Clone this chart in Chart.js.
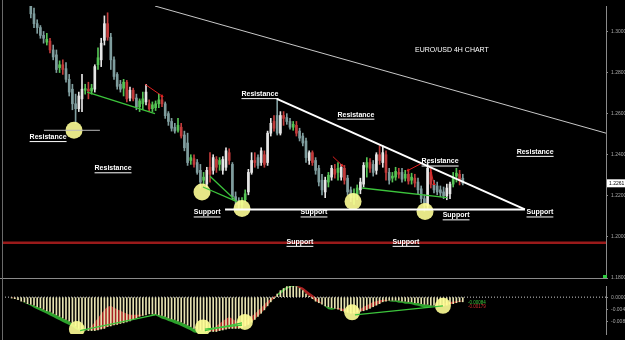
<!DOCTYPE html>
<html><head><meta charset="utf-8">
<script src="https://cdn.jsdelivr.net/npm/chart.js@4.4.1/dist/chart.umd.min.js"></script>
<style>
html,body{margin:0;padding:0;background:#000;width:625px;height:340px;overflow:hidden}
#wrap{position:relative;width:625px;height:340px;background:#000}
canvas{position:absolute;left:0}
#main{top:0}
#macd{top:280px}
.hl{position:absolute;left:0;width:607px;top:278px;height:1px;background:#8a8a8a}
.vl{position:absolute;left:2px;top:0;width:1px;height:340px;background:#6a6a6a}
</style></head><body>
<div id="wrap">
<canvas id="main" width="625" height="284"></canvas>
<canvas id="macd" width="625" height="60"></canvas>
<div class="hl"></div><div class="vl"></div>
</div>
<script>
// ---------- DATA ----------
const firstCandle = 9;      // bar index of first candle
const firstMacd = 3;        // bar index of first MACD bar
const xSlots = 188.75;      // bar slots across the plot width

const open = [
1.3148,1.3086,1.3038,1.3019,1.2981,1.2948,1.2953,1.2910,1.2886,1.2824,
1.2838,1.2819,1.2767,1.2719,1.2648,1.2624,1.2672,1.2714,1.2719,1.2710,
1.2719,1.2838,1.2862,1.2957,1.3038,1.2972,1.2862,1.2791,1.2743,1.2724,
1.2753,1.2676,1.2714,1.2676,1.2634,1.2648,1.2657,1.2648,1.2624,1.2629,
1.2648,1.2667,1.2648,1.2600,1.2562,1.2534,1.2519,1.2534,1.2496,1.2457,
1.2372,1.2381,1.2362,1.2324,1.2276,1.2257,1.2339,1.2324,1.2377,1.2353,
1.2324,1.2339,1.2410,1.2353,1.2196,1.2177,1.2158,1.2181,1.2219,1.2314,
1.2372,1.2386,1.2362,1.2400,1.2362,1.2505,1.2562,1.2591,1.2505,1.2591,
1.2581,1.2562,1.2534,1.2543,1.2515,1.2491,1.2467,1.2372,1.2410,1.2372,
1.2334,1.2276,1.2219,1.2267,1.2291,1.2329,1.2314,1.2291,1.2334,1.2286,
1.2229,1.2191,1.2205,1.2229,1.2257,1.2339,1.2362,1.2353,1.2324,1.2400,
1.2362,1.2400,1.2314,1.2286,1.2291,1.2314,1.2314,1.2286,1.2305,1.2276,
1.2286,1.2267,1.2234,1.2186,1.2153,1.2314,1.2257,1.2248,1.2229,1.2219,
1.2200,1.2210,1.2257,1.2296,1.2305,1.2286];
const high = [
1.3172,1.3114,1.3057,1.3029,1.3000,1.2991,1.2967,1.2934,1.2910,1.2857,
1.2862,1.2848,1.2791,1.2743,1.2695,1.2705,1.2791,1.2743,1.2753,1.2743,
1.2838,1.2920,1.2967,1.3076,1.3091,1.2991,1.2876,1.2800,1.2762,1.2767,
1.2762,1.2729,1.2724,1.2695,1.2672,1.2705,1.2743,1.2667,1.2657,1.2662,
1.2695,1.2686,1.2657,1.2610,1.2577,1.2553,1.2577,1.2553,1.2515,1.2505,
1.2400,1.2400,1.2377,1.2353,1.2314,1.2339,1.2410,1.2400,1.2391,1.2386,
1.2391,1.2434,1.2429,1.2362,1.2219,1.2191,1.2191,1.2229,1.2329,1.2410,
1.2410,1.2400,1.2434,1.2419,1.2515,1.2577,1.2591,1.2672,1.2610,1.2610,
1.2600,1.2577,1.2562,1.2562,1.2529,1.2505,1.2481,1.2419,1.2419,1.2386,
1.2348,1.2305,1.2291,1.2314,1.2348,1.2353,1.2362,1.2353,1.2348,1.2300,
1.2243,1.2234,1.2253,1.2286,1.2362,1.2386,1.2381,1.2372,1.2410,1.2443,
1.2443,1.2419,1.2334,1.2314,1.2339,1.2334,1.2334,1.2324,1.2319,1.2310,
1.2305,1.2286,1.2248,1.2205,1.2362,1.2329,1.2276,1.2267,1.2248,1.2243,
1.2257,1.2267,1.2314,1.2334,1.2324,1.2305];
const low = [
1.3066,1.3019,1.2991,1.2967,1.2943,1.2934,1.2896,1.2862,1.2800,1.2800,
1.2791,1.2753,1.2686,1.2619,1.2553,1.2610,1.2610,1.2695,1.2672,1.2695,
1.2705,1.2815,1.2829,1.2934,1.2957,1.2815,1.2767,1.2719,1.2705,1.2686,
1.2657,1.2662,1.2662,1.2619,1.2610,1.2619,1.2643,1.2610,1.2610,1.2615,
1.2629,1.2634,1.2577,1.2543,1.2515,1.2505,1.2510,1.2481,1.2419,1.2348,
1.2353,1.2339,1.2305,1.2238,1.2253,1.2243,1.2267,1.2305,1.2314,1.2324,
1.2305,1.2324,1.2353,1.2181,1.2158,1.2139,1.2134,1.2172,1.2205,1.2305,
1.2339,1.2334,1.2348,1.2339,1.2348,1.2491,1.2515,1.2496,1.2496,1.2543,
1.2548,1.2524,1.2519,1.2491,1.2467,1.2443,1.2362,1.2353,1.2348,1.2305,
1.2248,1.2205,1.2191,1.2243,1.2276,1.2286,1.2276,1.2276,1.2257,1.2205,
1.2172,1.2158,1.2181,1.2210,1.2243,1.2291,1.2314,1.2296,1.2305,1.2353,
1.2339,1.2276,1.2257,1.2267,1.2276,1.2286,1.2267,1.2272,1.2257,1.2257,
1.2243,1.2210,1.2167,1.2124,1.2139,1.2238,1.2214,1.2205,1.2196,1.2186,
1.2181,1.2186,1.2243,1.2267,1.2253,1.2253];
const close = [
1.3086,1.3038,1.3019,1.2981,1.2967,1.2962,1.2910,1.2876,1.2815,1.2838,
1.2815,1.2767,1.2705,1.2648,1.2624,1.2686,1.2719,1.2722,1.2710,1.2724,
1.2829,1.2872,1.2943,1.3038,1.2972,1.2862,1.2781,1.2733,1.2719,1.2753,
1.2672,1.2714,1.2672,1.2634,1.2662,1.2672,1.2705,1.2624,1.2643,1.2648,
1.2667,1.2648,1.2590,1.2562,1.2529,1.2515,1.2543,1.2491,1.2434,1.2362,
1.2386,1.2353,1.2314,1.2267,1.2291,1.2324,1.2305,1.2386,1.2339,1.2372,
1.2377,1.2419,1.2372,1.2196,1.2177,1.2158,1.2172,1.2210,1.2314,1.2372,
1.2362,1.2348,1.2419,1.2353,1.2505,1.2553,1.2529,1.2505,1.2591,1.2577,
1.2562,1.2534,1.2548,1.2505,1.2481,1.2457,1.2386,1.2410,1.2362,1.2324,
1.2267,1.2229,1.2276,1.2300,1.2334,1.2305,1.2334,1.2339,1.2276,1.2219,
1.2191,1.2210,1.2238,1.2267,1.2348,1.2362,1.2334,1.2314,1.2400,1.2372,
1.2410,1.2314,1.2276,1.2296,1.2319,1.2305,1.2281,1.2305,1.2272,1.2291,
1.2262,1.2229,1.2186,1.2153,1.2334,1.2257,1.2229,1.2219,1.2214,1.2200,
1.2238,1.2257,1.2291,1.2310,1.2276,1.2261];

const macdHist = [
-0.0003,-0.0005,-0.0008,-0.0013,-0.0015,-0.0021,-0.0023,-0.0026,-0.0031,-0.0034,
-0.0039,-0.0044,-0.0046,-0.0052,-0.0057,-0.0062,-0.0067,-0.0072,-0.0077,-0.0085,
-0.0093,-0.0101,-0.0103,-0.0106,-0.0108,-0.0108,-0.0108,-0.0106,-0.0103,-0.0101,
-0.0095,-0.0093,-0.0090,-0.0088,-0.0085,-0.0083,-0.0080,-0.0077,-0.0072,-0.0067,
-0.0062,-0.0059,-0.0057,-0.0054,-0.0054,-0.0054,-0.0057,-0.0059,-0.0062,-0.0067,
-0.0070,-0.0072,-0.0077,-0.0080,-0.0085,-0.0090,-0.0095,-0.0101,-0.0103,-0.0106,
-0.0108,-0.0111,-0.0111,-0.0111,-0.0111,-0.0108,-0.0106,-0.0103,-0.0101,-0.0101,
-0.0101,-0.0101,-0.0098,-0.0093,-0.0088,-0.0080,-0.0072,-0.0062,-0.0052,-0.0041,
-0.0028,-0.0015,-0.0005,0.0010,0.0021,0.0028,0.0034,0.0036,0.0036,0.0034,
0.0028,0.0021,0.0010,0.0003,-0.0005,-0.0013,-0.0018,-0.0023,-0.0028,-0.0031,
-0.0034,-0.0036,-0.0039,-0.0044,-0.0046,-0.0049,-0.0052,-0.0052,-0.0049,-0.0046,
-0.0044,-0.0041,-0.0036,-0.0031,-0.0026,-0.0021,-0.0015,-0.0013,-0.0010,-0.0010,
-0.0010,-0.0010,-0.0013,-0.0013,-0.0015,-0.0015,-0.0018,-0.0018,-0.0021,-0.0023,
-0.0023,-0.0026,-0.0026,-0.0028,-0.0028,-0.0028,-0.0026,-0.0023,-0.0021,-0.0018,
-0.0015,-0.0015];
const macdLine = [
0.0000,-0.0003,-0.0008,-0.0013,-0.0018,-0.0023,-0.0028,-0.0034,-0.0039,-0.0044,
-0.0049,-0.0054,-0.0059,-0.0064,-0.0070,-0.0075,-0.0080,-0.0085,-0.0090,-0.0095,
-0.0103,-0.0108,-0.0111,-0.0108,-0.0101,-0.0093,-0.0080,-0.0067,-0.0054,-0.0041,
-0.0031,-0.0028,-0.0034,-0.0039,-0.0044,-0.0049,-0.0054,-0.0057,-0.0057,-0.0057,
-0.0057,-0.0057,-0.0057,-0.0054,-0.0057,-0.0059,-0.0064,-0.0070,-0.0072,-0.0077,
-0.0080,-0.0085,-0.0088,-0.0093,-0.0098,-0.0103,-0.0108,-0.0114,-0.0116,-0.0119,
-0.0119,-0.0116,-0.0108,-0.0101,-0.0093,-0.0085,-0.0077,-0.0070,-0.0064,-0.0070,
-0.0077,-0.0083,-0.0083,-0.0077,-0.0070,-0.0062,-0.0054,-0.0044,-0.0034,-0.0023,
-0.0013,-0.0005,0.0003,0.0005,0.0010,0.0018,0.0026,0.0031,0.0034,0.0036,
0.0034,0.0031,0.0023,0.0015,0.0008,0.0000,-0.0010,-0.0021,-0.0031,-0.0039,
-0.0041,-0.0039,-0.0034,-0.0036,-0.0039,-0.0044,-0.0049,-0.0049,-0.0044,-0.0039,
-0.0031,-0.0026,-0.0021,-0.0015,-0.0013,-0.0010,-0.0008,-0.0008,-0.0013,-0.0015,
-0.0015,-0.0018,-0.0018,-0.0021,-0.0021,-0.0023,-0.0026,-0.0028,-0.0031,-0.0034,
-0.0034,-0.0031,-0.0028,-0.0026,-0.0023,-0.0021,-0.0018,-0.0015,-0.0015,-0.0013,
-0.0013,-0.0010];

const priceTicks = [1.18,1.20,1.22,1.24,1.26,1.28,1.30];
const macdTicks = [0,-0.004,-0.008];

// drawn studies, anchored as [bar index, price]
const longTrend = [[47.8,1.3124],[188.75,1.2505]];
const resistanceLine = [[85.9,1.2672],[163.4,1.2134]];
const supportLine = [[69.7,1.2134],[163.4,1.2134]];
const redLevel = [[0,1.1972],[188.75,1.1972]];
const grayLevel = [[13.1,1.2519],[30.6,1.2519]];
const greenTrends = [
  [[26.6,1.2705],[47.8,1.2600]],
  [[62.8,1.2243],[73.4,1.2172]],
  [[65.0,1.2295],[72.8,1.2181]],
  [[112.5,1.2238],[139.1,1.2191]]];
const redArrows = [
  [[44.7,1.2743],[50.0,1.2686]],
  [[103.4,1.2391],[106.3,1.2348]],
  [[131.6,1.2362],[126.9,1.2324]],
  [[133.75,1.2338],[135.0,1.2257]]];
const priceCircles = [[22.5,1.2519],[62.5,1.2219],[75,1.2138],[109.7,1.2172],[132.2,1.2124]];
const macdCircles = [[23.4,-0.0103],[62.8,-0.0098],[75.9,-0.0080],[109.4,-0.0049],[137.8,-0.0028]];
const macdGreenLines = [
  [[24.4,-0.0108],[47.8,-0.0057]],
  [[63.4,-0.0108],[75.0,-0.0083]],
  [[63.4,-0.0103],[75.0,-0.0090]],
  [[110.3,-0.0057],[137.8,-0.0028]]];
const chartLabels = [
  ['Resistance',14.4,1.2486],['Resistance',34.7,1.2334],['Resistance',80.6,1.2695],
  ['Resistance',110.6,1.2595],['Resistance',136.9,1.2367],['Resistance',166.6,1.2414],
  ['Support',64.1,1.2119],['Support',97.5,1.2119],['Support',141.9,1.2105],
  ['Support',168.1,1.2119],['Support',93.1,1.1976],['Support',126.25,1.1976]];
const chartTitle = ['EURO/USD 4H CHART',140.6,1.2910];
const macdReadouts = [['-0.00084',145.6,-0.0018,'#3cc43c'],['-0.00179',145.6,-0.0030,'#d03030']];

// ---------- BUILD ----------
const C = {gray:'#7f9d9e', green:'#55c455', red:'#c23b3b', white:'#e6e6e6'};
const candleX = open.map((_,k)=>firstCandle+k);
const bodyColors = close.map((c,k)=>{
  const o=open[k];
  if(c>=o) return (c-o)>0.0035 ? C.white : C.green;
  const prevUp = k>0 && close[k-1]>=open[k-1];
  return prevUp ? C.red : C.gray;
});
const pts = a=>a.map(p=>({x:p[0],y:p[1]}));
const lineDs = (a,color,w,extra)=>Object.assign({type:'line',data:pts(a),borderColor:color,borderWidth:w,pointRadius:0,fill:false,order:1},extra||{});

const yAxisCommon = {
  position:'right',
  afterFit(s){s.width=19;},
  grid:{drawOnChartArea:false,color:'#8a8a8a',tickLength:2},
  border:{color:'#8a8a8a'},
  ticks:{color:'#a8a8a8',font:{size:5,family:'Arial'},padding:3,callback:v=>Number(v).toFixed(4)}
};

const mainDatasets = [
  {type:'bar',data:candleX.map((x,k)=>({x,y:[low[k],high[k]]})),backgroundColor:bodyColors,barThickness:1,grouped:false,order:6},
  {type:'bar',data:candleX.map((x,k)=>({x,y:[open[k],close[k]]})),backgroundColor:bodyColors,barThickness:2,grouped:false,minBarLength:1,order:5},
  {type:'scatter',data:pts(priceCircles),pointRadius:8.5,pointBackgroundColor:'rgba(255,255,150,0.9)',pointBorderWidth:0,order:3},
  lineDs(longTrend,'#c8c8c8',1),
  lineDs(redLevel,'#9a1a1a',2.5),
  lineDs(grayLevel,'#bbbbbb',1),
  lineDs(resistanceLine,'#ffffff',2),
  lineDs(supportLine,'#ffffff',2),
  ...greenTrends.map(a=>lineDs(a,'#3cc43c',1.3)),
  ...redArrows.map(a=>lineDs(a,'#e02020',1,{pointRadius:[0,2],pointStyle:'triangle',pointBackgroundColor:'#e02020',pointBorderWidth:0}))
];

const mainText = {id:'mainText', afterDatasetsDraw(chart){
  const {ctx,scales:{x,y}}=chart;
  ctx.save();
  ctx.font='bold 7px Arial'; ctx.fillStyle='#fff'; ctx.textAlign='center'; ctx.textBaseline='middle';
  chartLabels.forEach(([t,i,p])=>{
    const px=x.getPixelForValue(i), py=y.getPixelForValue(p);
    ctx.fillText(t,px,py);
    const w=ctx.measureText(t).width;
    ctx.fillRect(px-w/2,py+4,w,1);
  });
  ctx.font='7px Arial';
  ctx.fillText(chartTitle[0],x.getPixelForValue(chartTitle[1]),y.getPixelForValue(chartTitle[2]));
  // price tag of last close
  const last=close[close.length-1], py=y.getPixelForValue(last);
  ctx.fillStyle='#fff'; ctx.fillRect(607,py-4,18,8);
  ctx.fillStyle='#000'; ctx.font='5px Arial'; ctx.textAlign='left';
  ctx.fillText(last.toFixed(4),609,py);
  // bottom green marker
  const pb=y.getPixelForValue(priceTicks[0]);
  ctx.fillStyle='#2ecc40'; ctx.fillRect(603,pb-3,4,4);
  ctx.restore();
}};

new Chart(document.getElementById('main'),{
  type:'bar',
  data:{datasets:mainDatasets},
  options:{
    responsive:false,animation:false,events:[],
    layout:{autoPadding:false,padding:{left:2,right:0,top:0,bottom:6}},
    plugins:{legend:{display:false},tooltip:{enabled:false}},
    scales:{
      x:{type:'linear',min:0,max:xSlots,offset:false,display:false},
      y:Object.assign({},yAxisCommon,{min:1.18,max:1.3124,
        afterBuildTicks(s){s.ticks=priceTicks.map(v=>({value:v}));}})
    }
  },
  plugins:[mainText]
});

const macdText = {id:'macdText', afterDatasetsDraw(chart){
  const {ctx,scales:{x,y}}=chart;
  ctx.save();
  ctx.font='4.5px Arial'; ctx.textAlign='left'; ctx.textBaseline='middle';
  macdReadouts.forEach(([t,i,v,c])=>{ctx.fillStyle=c; ctx.fillText(t,x.getPixelForValue(i),y.getPixelForValue(v));});
  ctx.restore();
}};

const macdX = macdHist.map((_,k)=>firstMacd+k);
const macdDatasets = [
  {type:'bar',data:macdX.map((x,k)=>({x,y:macdHist[k]})),backgroundColor:'#e6e2b2',barThickness:1,grouped:false,order:0},
  {type:'line',data:macdX.map((x,k)=>({x,y:macdHist[k]})),borderWidth:0,borderColor:'rgba(0,0,0,0)',pointRadius:0,fill:false,order:4},
  {type:'line',data:macdX.map((x,k)=>({x,y:macdLine[k]})),borderWidth:0,borderColor:'rgba(0,0,0,0)',pointRadius:0,
    fill:{target:1,above:'rgba(176,34,34,0.95)',below:'rgba(46,170,46,0.95)'},order:3},
  lineDs([[0,0],[xSlots,0]],'#cfcfcf',1,{borderDash:[1,2],order:2}),
  {type:'scatter',data:pts(macdCircles),pointRadius:8,pointBackgroundColor:'rgba(255,255,150,0.9)',pointBorderWidth:0,order:-1},
  ...macdGreenLines.map(a=>lineDs(a,'#3cc43c',1.3,{order:-2}))
];

new Chart(document.getElementById('macd'),{
  type:'bar',
  data:{datasets:macdDatasets},
  options:{
    responsive:false,animation:false,events:[],
    layout:{autoPadding:false,padding:{left:2,right:0,top:0,bottom:0}},
    plugins:{legend:{display:false},tooltip:{enabled:false}},
    scales:{
      x:{type:'linear',min:0,max:xSlots,offset:false,display:false},
      y:Object.assign({},yAxisCommon,{min:-0.0119,max:0.0036,
        afterBuildTicks(s){s.ticks=macdTicks.map(v=>({value:v}));}})
    }
  },
  plugins:[macdText]
});
</script>
</body></html>
